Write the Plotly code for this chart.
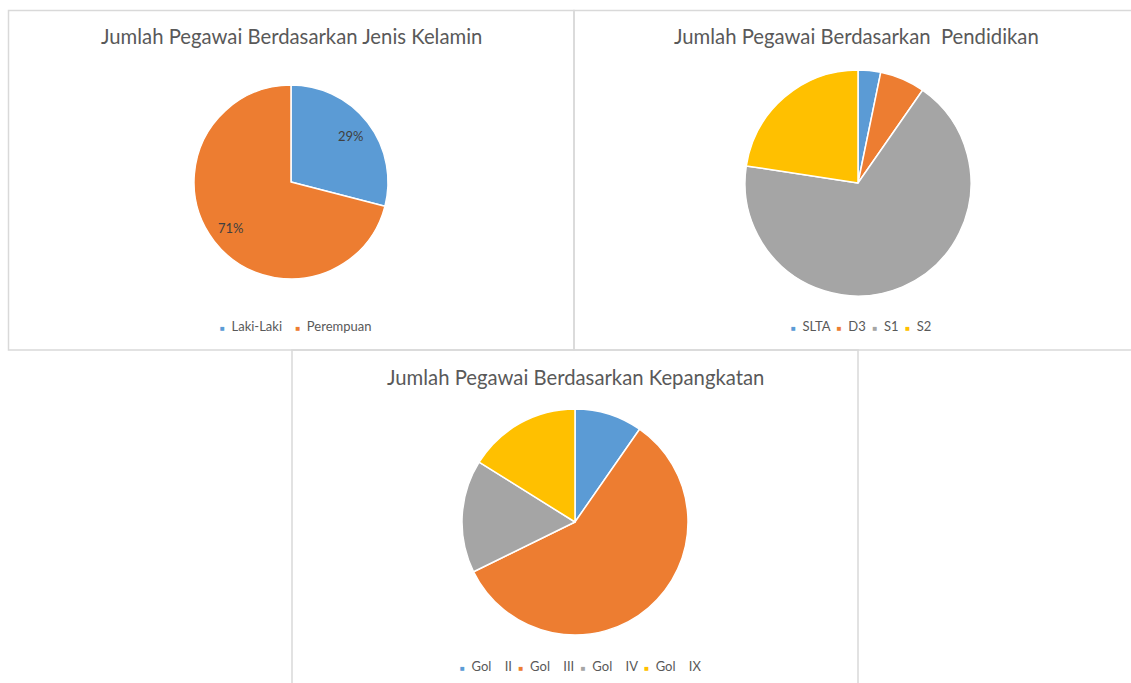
import math
import plotly.graph_objects as go

W, H = 1131, 683

# ---- data ----
gender_labels = ["Laki-Laki", "Perempuan"]
gender_values = [9, 22]

edu_labels = ["SLTA", "D3", "S1", "S2"]
edu_values = [1, 2, 21, 7]

rank_labels = ["Gol\u00a0\u00a0\u00a0\u00a0II", "Gol\u00a0\u00a0\u00a0\u00a0III",
               "Gol\u00a0\u00a0\u00a0\u00a0IV", "Gol\u00a0\u00a0\u00a0\u00a0IX"]
rank_values = [3, 18, 5, 5]

titles = [
    "Jumlah Pegawai Berdasarkan Jenis Kelamin",
    "Jumlah Pegawai Berdasarkan\u00a0\u00a0Pendidikan",
    "Jumlah Pegawai Berdasarkan Kepangkatan",
]

colors = ["#5B9BD5", "#ED7D31", "#A5A5A5", "#FFC000"]
FONT = "Lato, 'Open Sans', sans-serif"


def px(x):
    return x / W


def py(y):
    return 1 - y / H


def dom(cx, cy, r):
    return dict(x=[px(cx - r), px(cx + r)], y=[py(cy + r), py(cy - r)])


pies = [
    (gender_labels, gender_values, (291, 182, 97)),
    (edu_labels, edu_values, (858, 183, 113)),
    (rank_labels, rank_values, (575, 522, 113)),
]

fig = go.Figure()
for labels, values, (cx, cy, r) in pies:
    fig.add_trace(go.Pie(
        labels=labels, values=values, sort=False, direction="clockwise",
        rotation=0, domain=dom(cx, cy, r),
        marker=dict(colors=colors[:len(labels)], line=dict(color="white", width=1.5)),
        textinfo="none", showlegend=False, hoverinfo="label+value+percent",
    ))

annotations = []

# percentage labels for the first pie, placed at the slice mid-angle
cx, cy, r = pies[0][2]
total = sum(gender_values)
cum = 0
for v in gender_values:
    mid = (cum + v / 2) / total * 2 * math.pi
    cum += v
    lx = cx + 0.78 * r * math.sin(mid)
    ly = cy - 0.78 * r * math.cos(mid)
    annotations.append(dict(text=f"{round(100 * v / total)}%", x=px(lx), y=py(ly),
                            xref="paper", yref="paper", showarrow=False,
                            xanchor="center", yanchor="middle",
                            font=dict(family=FONT, size=13, color="#404040")))

# titles
for t, (tx, ty) in zip(titles, [(291, 36), (857, 36), (575, 377)]):
    annotations.append(dict(text=t, x=px(tx), y=py(ty), xref="paper", yref="paper",
                            showarrow=False, xanchor="center", yanchor="middle",
                            font=dict(family=FONT, size=20.3, color="#595959")))

# legends (Excel-style small square markers)
legend_specs = [
    (gender_labels, (295, 326), "\u00a0" * 4),
    (edu_labels, (861, 326), "\u00a0" * 2),
    (rank_labels, (580, 666), "\u00a0" * 2),
]
for labels, (lx, ly), gap in legend_specs:
    parts = []
    for lab, col in zip(labels, colors):
        parts.append(f"<span style='color:{col};font-size:8px'>■</span>\u00a0\u00a0{lab}")
    annotations.append(dict(text=gap.join(parts), x=px(lx), y=py(ly),
                            xref="paper", yref="paper", showarrow=False,
                            xanchor="center", yanchor="middle",
                            font=dict(family=FONT, size=13, color="#595959")))

box_color = "#D9D9D9"
shapes = []
for (x0, y0, x1, y1) in [(8.5, 10.5, 574, 350), (574, 10.5, 1140, 350), (292, 350, 858, 695)]:
    shapes.append(dict(type="rect", xref="paper", yref="paper",
                       x0=px(x0), x1=px(x1), y0=py(y1), y1=py(y0),
                       line=dict(color=box_color, width=1.5), fillcolor="rgba(0,0,0,0)",
                       layer="below"))

fig.update_layout(
    width=W, height=H,
    margin=dict(l=0, r=0, t=0, b=0),
    paper_bgcolor="white", plot_bgcolor="white",
    shapes=shapes, annotations=annotations,
)

fig.write_html(
    "out.html",
    config={"displayModeBar": False},
    post_script="document.body.style.margin='0';document.body.style.overflow='hidden';",
)
